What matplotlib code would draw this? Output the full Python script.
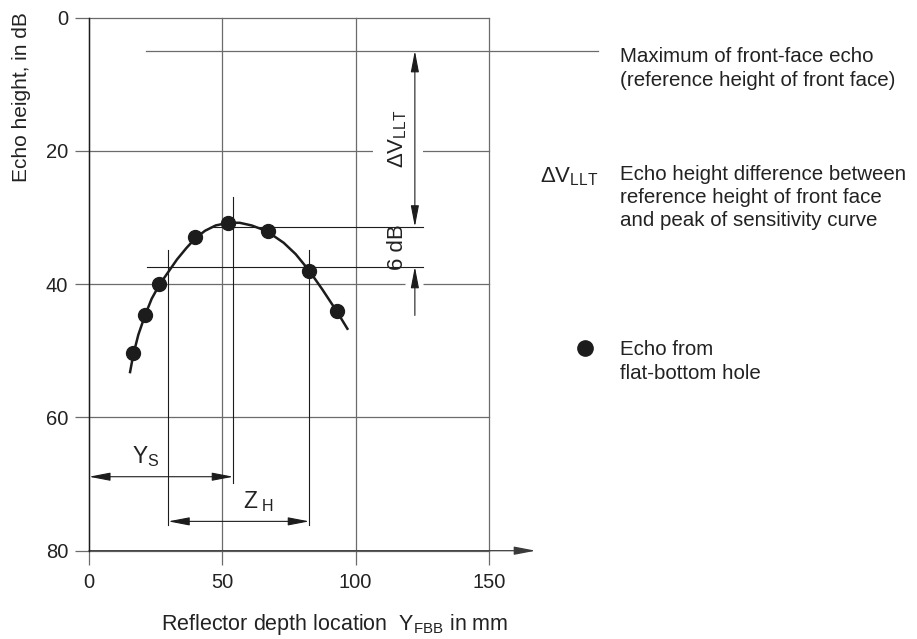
import matplotlib
matplotlib.use("Agg")
import matplotlib.pyplot as plt
from matplotlib import font_manager

# echo maxima measured on the flat-bottom holes
hole_depth_mm = [16.6, 21.0, 26.4, 39.7, 52.2, 67.0, 82.6, 93.1]
hole_echo_db = [50.4, 44.7, 40.0, 33.0, 30.8, 32.0, 38.1, 44.1]

# sensitivity curve through the hole echoes
curve_mm = [15.4, 16.6, 18.5, 21.0, 23.5, 26.4, 29.7, 33.0, 36.5, 39.7, 43.5, 47.5,
            52.2, 56.5, 61.0, 65.0, 69.0, 73.0, 77.5, 82.6, 87.5, 93.1, 96.9]
curve_db = [53.2, 50.6, 47.6, 44.7, 42.2, 40.1, 38.2, 36.3, 34.6, 33.2, 32.0, 31.2,
            30.8, 30.8, 31.2, 31.8, 32.7, 33.8, 35.5, 38.0, 40.8, 44.2, 46.7]

x_ticks = [0, 50, 100, 150]
y_ticks = [0, 20, 40, 60, 80]

front_face_db = 5.0      # maximum of front-face echo
peak_db = 31.4           # peak of the sensitivity curve
drop_db = 6.0            # drop used for the focal zone
focus_mm = 54.1          # Y_S
zone_mm = [29.7, 82.6]   # Z_H limits
dim_x_mm = 122.2         # position of the vertical dB dimension

names = {f.name for f in font_manager.fontManager.ttflist}
FONT = "Liberation Sans Narrow" if "Liberation Sans Narrow" in names else "Liberation Sans"
plt.rcParams["font.family"] = [FONT, "DejaVu Sans"]
plt.rcParams["mathtext.fontset"] = "custom"
plt.rcParams["mathtext.rm"] = FONT
plt.rcParams["mathtext.it"] = FONT

GRID = "#6b6b6b"
INK = "#1c1c1c"
TXT = "#222222"
NOTE_SIZE = 14.8

fig = plt.figure(figsize=(9.17, 6.39), dpi=100)
ax = fig.add_axes([89 / 917, 1 - 550.7 / 639, 400 / 917, 533.2 / 639])
ax.set_xlim(0, 150)
ax.set_ylim(80, 0)

for s in ["top", "right", "bottom"]:
    ax.spines[s].set_visible(False)
ax.spines["left"].set_color(INK)
ax.spines["left"].set_linewidth(1.0)
ax.spines["left"].set_zorder(3)

ax.set_xticks(x_ticks)
ax.set_yticks(y_ticks)
ax.tick_params(axis="both", direction="out", length=10, width=0.9, color=GRID,
               labelsize=14.5, labelcolor=TXT)
ax.tick_params(axis="x", pad=6)
ax.tick_params(axis="y", pad=5)
ax.grid(True, color=GRID, linewidth=0.9)
ax.set_axisbelow(True)
# grid lines on the frame edges should not be cut in half
for gl in ax.get_xgridlines() + ax.get_ygridlines():
    gl.set_clip_on(False)

# x axis with arrow
ax.annotate("", xy=(167.5, 80), xytext=(0, 80),
            arrowprops=dict(arrowstyle="-|>,head_length=1.3,head_width=0.25",
                            color="#3a3a3a", lw=0.9, shrinkA=0, shrinkB=0,
                            mutation_scale=10),
            annotation_clip=False)

# reference line of the front-face echo
ax.plot([21.4, 190.9], [front_face_db, front_face_db], color=GRID, lw=0.9,
        clip_on=False, zorder=2)

# dimension lines at the peak and 6 dB below it
half_db = peak_db + drop_db
ax.plot([45.4, 125.3], [peak_db, peak_db], color=INK, lw=0.8, zorder=2)
ax.plot([21.6, 125.3], [half_db, half_db], color=INK, lw=0.8, zorder=2)
ax.plot([focus_mm, focus_mm], [26.9, 69.9], color=INK, lw=0.8, zorder=2)
for zx in zone_mm:
    ax.plot([zx, zx], [34.9, 76.2], color=INK, lw=0.8, zorder=2)

# gap in the 40 dB grid line around the dimension arrow
ax.plot([118.6, 125.3], [40, 40], color="white", lw=2.5, zorder=1.5,
        solid_capstyle="butt")

arrow_both = dict(arrowstyle="<|-|>,head_length=1.3,head_width=0.25", color=INK,
                  lw=0.8, shrinkA=0, shrinkB=0, mutation_scale=10)
arrow_one = dict(arrowstyle="-|>,head_length=1.3,head_width=0.25", color=INK,
                 lw=0.8, shrinkA=0, shrinkB=0, mutation_scale=10)

ax.annotate("", xy=(dim_x_mm, peak_db), xytext=(dim_x_mm, front_face_db),
            arrowprops=arrow_both, zorder=4)
ax.annotate("", xy=(dim_x_mm, half_db), xytext=(dim_x_mm, 44.7),
            arrowprops=arrow_one, zorder=4)
ax.annotate("", xy=(focus_mm, 68.9), xytext=(0, 68.9), arrowprops=arrow_both)
ax.annotate("", xy=(zone_mm[1], 75.6), xytext=(zone_mm[0], 75.6),
            arrowprops=arrow_both)

ax.text(115.8, (front_face_db + peak_db) / 2, r"$\mathrm{\Delta V_{LLT}}$",
        rotation=90, ha="center", va="center", fontsize=16, color=TXT, zorder=3,
        bbox=dict(fc="white", ec="none", pad=10))
ax.text(115.8, (peak_db + half_db) / 2, "6 dB", rotation=90, ha="center",
        va="center", fontsize=16, color=TXT)
ax.text(21.4, 66.8, r"$\mathrm{Y_S}$", ha="center", va="baseline", fontsize=16.5,
        color=TXT)
ax.text(63.7, 73.6, r"$\mathrm{Z_{\ H}}$", ha="center", va="baseline",
        fontsize=16.5, color=TXT)

# sensitivity curve and measured echoes
ax.plot(curve_mm, curve_db, color=INK, lw=1.8, zorder=5)
ax.plot(hole_depth_mm, hole_echo_db, "o", color=INK, ms=10, zorder=6)

# axis labels
ax.set_xlabel(r"Reflector depth location  $\mathrm{Y_{FBB}}$ in mm", fontsize=15.5,
              color=TXT, ha="center", va="baseline")
ax.xaxis.set_label_coords(0.615, -0.1487)
ax.set_ylabel("Echo height, in dB", fontsize=15, color=TXT, ha="center",
              va="center")
ax.yaxis.set_label_coords(-0.1675, 0.851)

# explanations on the right
ax.text(199.1, 7.6, "Maximum of front-face echo\n(reference height of front face)",
        ha="left", va="center", fontsize=NOTE_SIZE, color=TXT, linespacing=1.32,
        clip_on=False)
ax.text(169.1, 24.7, r"$\mathrm{\Delta V_{LLT}}$", ha="left", va="baseline",
        fontsize=16, color=TXT, clip_on=False)
ax.text(199.1, 27.0, "Echo height difference between\nreference height of front face\n"
        "and peak of sensitivity curve", ha="left", va="center", fontsize=NOTE_SIZE,
        color=TXT, linespacing=1.28, clip_on=False)
ax.plot([186], [49.6], "o", color=INK, ms=11, clip_on=False)
ax.text(199.1, 51.6, "Echo from\nflat-bottom hole", ha="left", va="center",
        fontsize=NOTE_SIZE, color=TXT, linespacing=1.3, clip_on=False)

fig.savefig("out.png", dpi=100)
